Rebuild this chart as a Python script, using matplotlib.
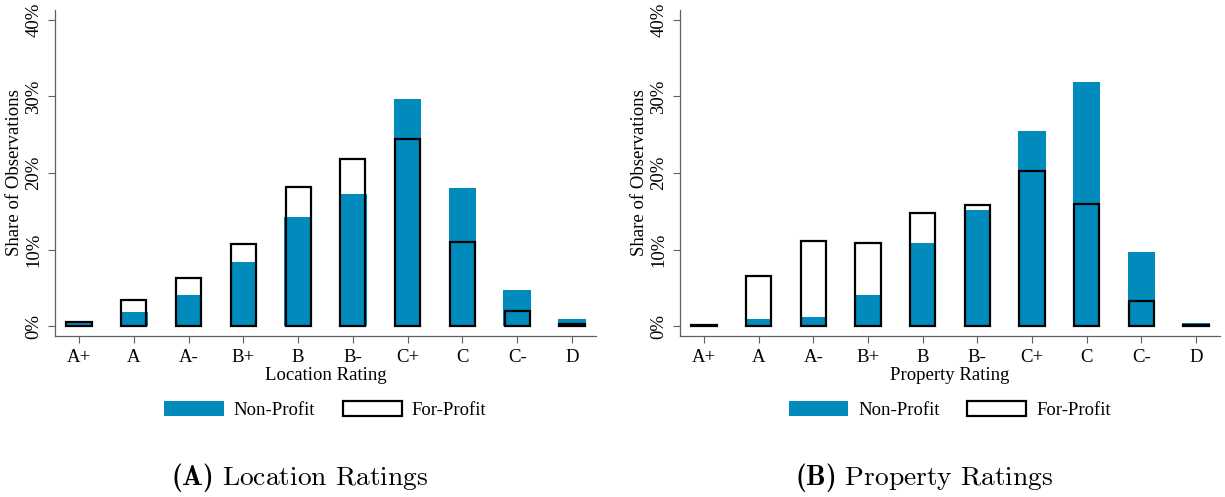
import matplotlib
matplotlib.use('Agg')
import matplotlib.pyplot as plt
import numpy as np
from matplotlib.patches import Patch

# rating categories shared by both panels
ratings = ['A+', 'A', 'A-', 'B+', 'B', 'B-', 'C+', 'C', 'C-', 'D']

# share of observations (%) by location rating
loc_nonprofit = [0.5, 1.8, 4.0, 8.4, 14.3, 17.3, 29.7, 18.0, 4.7, 0.9]
loc_forprofit = [0.5, 3.4, 6.3, 10.7, 18.2, 21.8, 24.5, 11.0, 2.0, 0.3]

# share of observations (%) by property rating
prop_nonprofit = [0.1, 0.9, 1.2, 4.0, 10.8, 15.2, 25.5, 31.9, 9.7, 0.4]
prop_forprofit = [0.2, 6.6, 11.1, 10.8, 14.8, 15.8, 20.2, 15.9, 3.3, 0.2]

yticks = [0, 10, 20, 30, 40]
ytick_labels = ['0%', '10%', '20%', '30%', '40%']

blue = '#008bbc'
axis_grey = '#606060'
serif = 'Liberation Serif'
fs = 13.5

plt.rcParams['font.family'] = serif
# Computer Modern for the panel captions (bold parentheses too)
plt.rcParams['mathtext.fontset'] = 'custom'
plt.rcParams['mathtext.rm'] = 'cmr10'
plt.rcParams['mathtext.bf'] = 'cmb10'

W, H = 1225, 497
fig = plt.figure(figsize=(W / 100, H / 100), dpi=100)


def panel(x0, x1, nonprofit, forprofit, xlabel, caption, cap_x):
    ax = fig.add_axes([x0 / W, 1 - 336 / H, (x1 - x0) / W, (336 - 10) / H])
    x = np.arange(len(ratings))
    ax.bar(x, nonprofit, width=0.5, color=blue, linewidth=0, zorder=2)
    ax.bar(x, forprofit, width=0.46, facecolor='none', edgecolor='black',
           linewidth=1.6, zorder=3)

    ax.set_xlim(-0.44, len(ratings) - 1 + 0.44)
    ax.set_ylim(-1.3, 41.3)
    ax.set_xticks(x)
    ax.set_xticklabels(ratings, fontsize=fs)
    ax.set_yticks(yticks)
    ax.set_yticklabels(ytick_labels, fontsize=fs, rotation=90, va='center')
    ax.tick_params(axis='both', length=5, width=0.8, color=axis_grey, pad=4)
    ax.set_ylabel('Share of Observations', fontsize=fs, labelpad=2)
    ax.set_xlabel(xlabel, fontsize=fs, labelpad=1)

    for side in ['top', 'right']:
        ax.spines[side].set_visible(False)
    for side in ['left', 'bottom']:
        ax.spines[side].set_color(axis_grey)
        ax.spines[side].set_linewidth(0.9)

    handles = [Patch(facecolor=blue, edgecolor='none', label='Non-Profit'),
               Patch(facecolor='white', edgecolor='black', linewidth=1.6,
                     label='For-Profit')]
    cx = (x0 + x1) / 2
    fig.legend(handles=handles, loc='center', ncol=2, frameon=False,
               bbox_to_anchor=(cx / W, 1 - 410 / H), fontsize=fs,
               handlelength=3.15, handleheight=0.85, handletextpad=0.55,
               columnspacing=1.45, borderaxespad=0)

    fig.text(cap_x / W, 1 - 478 / H, caption, ha='center', va='center',
             fontsize=19.8)
    return ax


panel(55, 596, loc_nonprofit, loc_forprofit, 'Location Rating',
      r'$\mathbf{(A)}\ \mathrm{Location\ Ratings}$', 300)
panel(680, 1220, prop_nonprofit, prop_forprofit, 'Property Rating',
      r'$\mathbf{(B)}\ \mathrm{Property\ Ratings}$', 924)

fig.savefig('out.png', dpi=100)
